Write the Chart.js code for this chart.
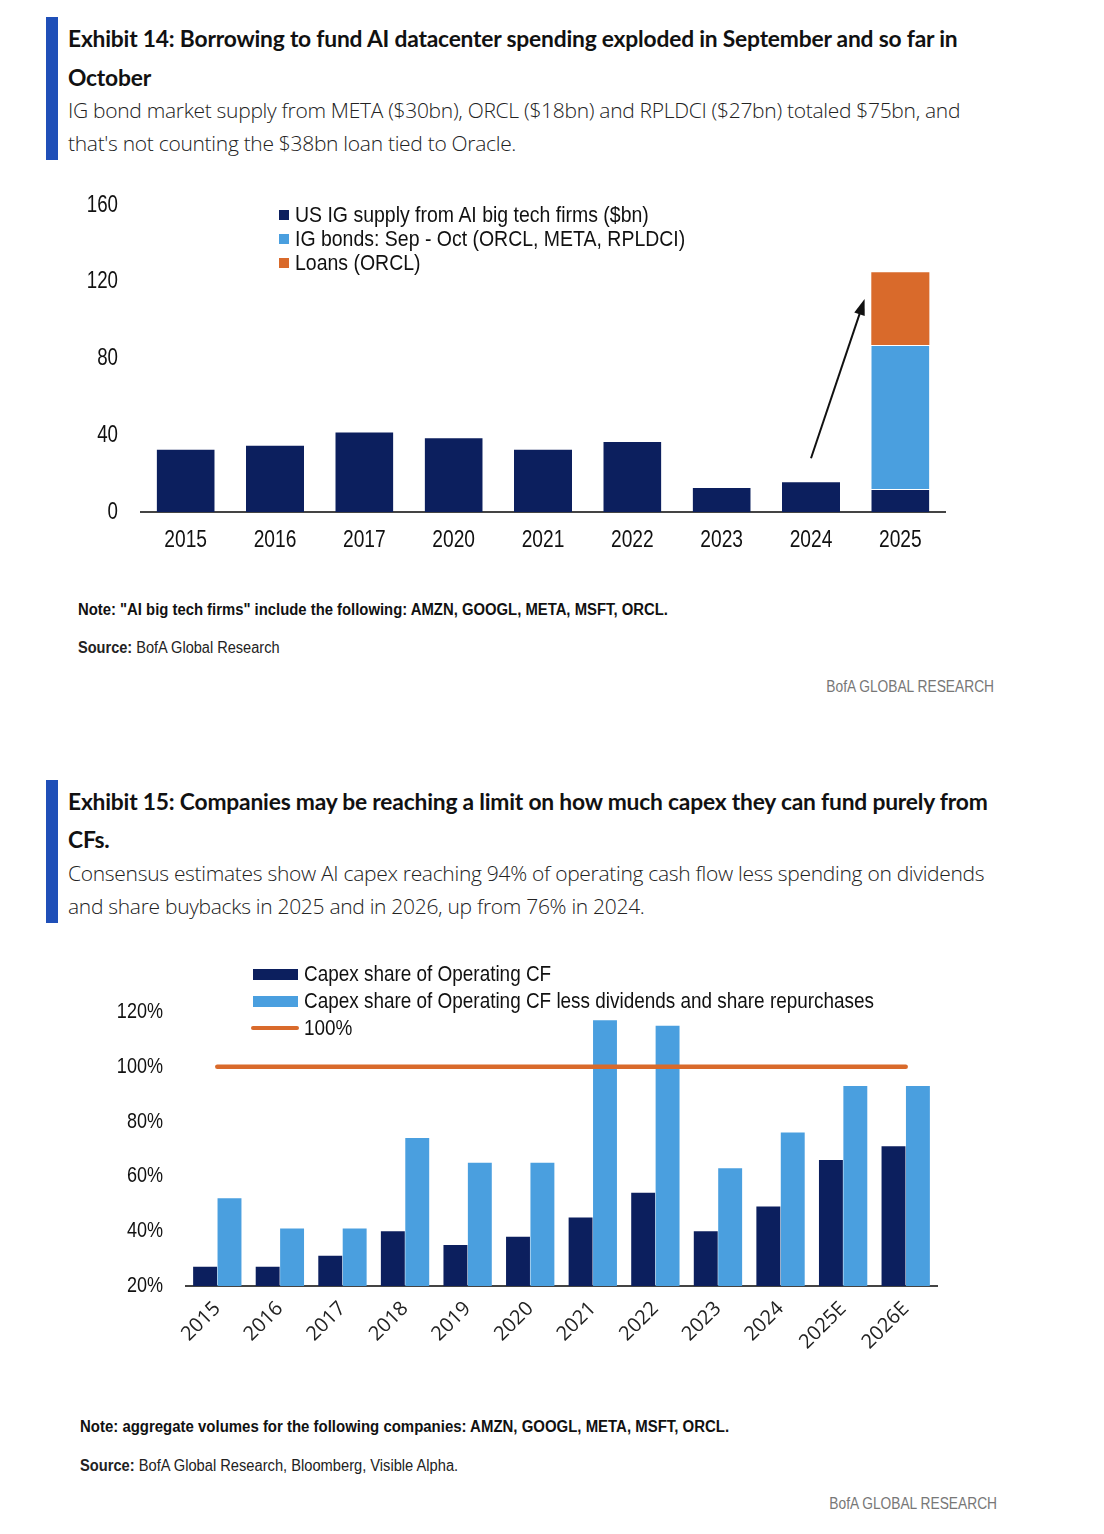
<!DOCTYPE html>
<html><head><meta charset="utf-8">
<script src="https://cdn.jsdelivr.net/npm/chart.js@4.4.1/dist/chart.umd.min.js"></script>
<style>
html,body{margin:0;padding:0;background:#fff;}
body{width:1104px;height:1534px;position:relative;overflow:hidden;font-family:"Liberation Sans",Arial,sans-serif;color:#111;}
.abs{position:absolute;white-space:nowrap;line-height:30px;}
.vbar{position:absolute;left:46px;width:12px;background:#1F4FB8;}
.title{font-family:Lato,"Open Sans",sans-serif;font-weight:700;font-size:22.8px;color:#111;letter-spacing:-0.2px;}
.sub{font-family:"Open Sans",Lato,sans-serif;font-weight:300;font-size:21px;color:#222;letter-spacing:-0.3px;}
.note{font-family:"Liberation Sans",sans-serif;font-size:16px;color:#111;font-weight:700;transform-origin:left center;}
.src{font-family:"Liberation Sans",sans-serif;font-size:16px;color:#222;transform-origin:left center;}
.brand{font-family:"Liberation Sans",sans-serif;font-size:16px;color:#777;transform-origin:right center;transform:scaleX(0.86);}
.leg{position:absolute;font-family:"Liberation Sans",Arial,sans-serif;font-size:22px;color:#111;white-space:nowrap;line-height:24px;transform-origin:left center;}
.sw{position:absolute;}
canvas{position:absolute;}
</style>
</head>
<body>
<!-- Exhibit 14 header -->
<div class="vbar" style="top:17px;height:143px;"></div>
<div class="abs title" style="left:68px;top:23px;">Exhibit 14: Borrowing to fund AI datacenter spending exploded in September and so far in</div>
<div class="abs title" style="left:68px;top:62px;">October</div>
<div class="abs sub" style="left:68px;top:95px;">IG bond market supply from META ($30bn), ORCL ($18bn) and RPLDCI ($27bn) totaled $75bn, and</div>
<div class="abs sub" style="left:68px;top:128px;">that's not counting the $38bn loan tied to Oracle.</div>

<canvas id="c1" width="900" height="370" style="left:60px;top:190px;width:900px;height:370px;"></canvas>
<div class="sw" style="left:279px;top:210px;width:10px;height:10px;background:#0C1F5E;"></div>
<div class="leg" style="left:295px;top:203px;transform:scaleX(0.885);">US IG supply from AI big tech firms ($bn)</div>
<div class="sw" style="left:279px;top:234px;width:10px;height:10px;background:#4A9FDF;"></div>
<div class="leg" style="left:295px;top:227px;transform:scaleX(0.885);">IG bonds: Sep - Oct (ORCL, META, RPLDCI)</div>
<div class="sw" style="left:279px;top:258px;width:10px;height:10px;background:#D96A2B;"></div>
<div class="leg" style="left:295px;top:251px;transform:scaleX(0.885);">Loans (ORCL)</div>

<div class="abs note" style="left:78px;top:595px;transform:scaleX(0.928);">Note: "AI big tech firms" include the following: AMZN, GOOGL, META, MSFT, ORCL.</div>
<div class="abs src" style="left:78px;top:633px;transform:scaleX(0.91);"><b>Source:</b> BofA Global Research</div>
<div class="abs brand" style="right:110px;top:672px;">BofA GLOBAL RESEARCH</div>

<!-- Exhibit 15 header -->
<div class="vbar" style="top:780px;height:143px;"></div>
<div class="abs title" style="left:68px;top:786px;">Exhibit 15: Companies may be reaching a limit on how much capex they can fund purely from</div>
<div class="abs title" style="left:68px;top:824px;">CFs.</div>
<div class="abs sub" style="left:68px;top:858px;">Consensus estimates show AI capex reaching 94% of operating cash flow less spending on dividends</div>
<div class="abs sub" style="left:68px;top:891px;">and share buybacks in 2025 and in 2026, up from 76% in 2024.</div>

<canvas id="c2" width="870" height="420" style="left:90px;top:950px;width:870px;height:420px;"></canvas>
<div class="sw" style="left:253px;top:969px;width:45px;height:11px;background:#0C1F5E;"></div>
<div class="leg" style="left:304px;top:962px;transform:scaleX(0.86);">Capex share of Operating CF</div>
<div class="sw" style="left:253px;top:996px;width:45px;height:11px;background:#4A9FDF;"></div>
<div class="leg" style="left:304px;top:989px;transform:scaleX(0.86);">Capex share of Operating CF less dividends and share repurchases</div>
<div class="sw" style="left:251px;top:1026px;width:48px;height:4px;background:#D96A2B;border-radius:2px;"></div>
<div class="leg" style="left:304px;top:1016px;transform:scaleX(0.86);">100%</div>

<div class="abs note" style="left:80px;top:1412px;transform:scaleX(0.935);">Note: aggregate volumes for the following companies: AMZN, GOOGL, META, MSFT, ORCL.</div>
<div class="abs src" style="left:80px;top:1451px;transform:scaleX(0.917);"><b>Source:</b> BofA Global Research, Bloomberg, Visible Alpha.</div>
<div class="abs brand" style="right:107px;top:1489px;">BofA GLOBAL RESEARCH</div>

<script>
// ---------- Exhibit 14 data ----------
const topCategories = ['2015','2016','2017','2020','2021','2022','2023','2024','2025'];
const usIgSupply    = [33, 35, 42, 39, 33, 37, 13, 16, 12];
const igBondsSepOct = [null, null, null, null, null, null, null, null, 75];
const loansOrcl     = [null, null, null, null, null, null, null, null, 38];
const topTicks      = [0, 40, 80, 120, 160];
// arrow annotation (category index, value)
const arrowFrom = [7, 28];
const arrowTo   = [7.6, 111];

// ---------- Exhibit 15 data ----------
const bottomCategories = ['2015','2016','2017','2018','2019','2020','2021','2022','2023','2024','2025E','2026E'];
const capexShareOcf         = [27, 27, 31, 40, 35, 38, 45, 54, 40, 49, 66, 71];
const capexShareOcfLessDivs = [52, 41, 41, 74, 65, 65, 117, 115, 63, 76, 93, 93];
const hundredPct            = [100, 100, 100, 100, 100, 100, 100, 100, 100, 100, 100, 100];
const bottomTicks           = [20, 40, 60, 80, 100, 120];

const NAVY = '#0C1F5E', LIGHT = '#4A9FDF', ORANGE = '#D96A2B';
const SANS = '"Liberation Sans",Arial,sans-serif';

const arrowPlugin = {
  id: 'arrow',
  afterDatasetsDraw(chart) {
    const {ctx, scales: {x, y}} = chart;
    const x1 = x.getPixelForValue(arrowFrom[0]), y1 = y.getPixelForValue(arrowFrom[1]);
    const x2 = x.getPixelForValue(arrowTo[0]),   y2 = y.getPixelForValue(arrowTo[1]);
    const ang = Math.atan2(y2 - y1, x2 - x1);
    const hl = 16, hw = 5.5;
    ctx.save();
    ctx.strokeStyle = '#111'; ctx.fillStyle = '#111'; ctx.lineWidth = 2;
    ctx.beginPath(); ctx.moveTo(x1, y1);
    ctx.lineTo(x2 - Math.cos(ang) * hl * 0.8, y2 - Math.sin(ang) * hl * 0.8); ctx.stroke();
    ctx.beginPath();
    ctx.moveTo(x2, y2);
    ctx.lineTo(x2 - Math.cos(ang) * hl + Math.sin(ang) * hw, y2 - Math.sin(ang) * hl - Math.cos(ang) * hw);
    ctx.lineTo(x2 - Math.cos(ang) * hl - Math.sin(ang) * hw, y2 - Math.sin(ang) * hl + Math.cos(ang) * hw);
    ctx.closePath(); ctx.fill();
    ctx.restore();
  }
};

// Draws tick labels of given scales in a condensed (horizontally squeezed) face,
// positioned from the library's own scale pixels.
const narrowTicksPlugin = {
  id: 'narrowTicks',
  afterDraw(chart, args, opts) {
    const ctx = chart.ctx;
    (opts.scales || []).forEach(cfg => {
      const s = chart.scales[cfg.id];
      ctx.save();
      ctx.fillStyle = cfg.color || '#111';
      ctx.font = cfg.size + 'px ' + SANS;
      ctx.textBaseline = 'middle';
      s.ticks.forEach((t, i) => {
        const label = cfg.format ? cfg.format(t.value) : s.getLabelForValue(t.value);
        let px, py;
        if (s.axis === 'y') {
          px = s.right - cfg.pad; py = s.getPixelForValue(t.value); ctx.textAlign = 'right';
        } else {
          px = s.getPixelForTick(i); py = chart.chartArea.bottom + cfg.pad; ctx.textAlign = 'center';
        }
        ctx.save();
        ctx.translate(px, py);
        ctx.scale(cfg.squeeze, 1);
        ctx.fillText(label, 0, 0);
        ctx.restore();
      });
      ctx.restore();
    });
  }
};

new Chart(document.getElementById('c1'), {
  type: 'bar',
  data: {
    labels: topCategories,
    datasets: [
      {label: 'US IG supply from AI big tech firms ($bn)', data: usIgSupply, backgroundColor: NAVY, borderColor: '#fff', borderWidth: {top: 1}, borderSkipped: 'bottom'},
      {label: 'IG bonds: Sep - Oct (ORCL, META, RPLDCI)', data: igBondsSepOct, backgroundColor: LIGHT, borderColor: '#fff', borderWidth: {top: 1}, borderSkipped: 'bottom'},
      {label: 'Loans (ORCL)', data: loansOrcl, backgroundColor: ORANGE, borderWidth: 0}
    ]
  },
  options: {
    responsive: false, animation: false,
    barPercentage: 0.65, categoryPercentage: 1.0,
    layout: {padding: {left: 0, right: 15, top: 15, bottom: 0}},
    plugins: {
      legend: {display: false}, tooltip: {enabled: false},
      narrowTicks: {scales: [
        {id: 'y', size: 24, squeeze: 0.78, pad: 23, format: v => String(v)},
        {id: 'x', size: 24, squeeze: 0.8, pad: 28}
      ]}
    },
    scales: {
      x: {
        stacked: true,
        grid: {display: false, drawTicks: false},
        border: {display: true, color: '#444', width: 2},
        ticks: {display: false},
        afterFit(s) { s.height = 48; }
      },
      y: {
        stacked: true, min: 0, max: 160,
        grid: {display: false, drawTicks: false},
        border: {display: false},
        afterBuildTicks(s) { s.ticks = topTicks.map(v => ({value: v})); },
        ticks: {display: false},
        afterFit(s) { s.width = 81; }
      }
    }
  },
  plugins: [arrowPlugin, narrowTicksPlugin]
});

new Chart(document.getElementById('c2'), {
  type: 'bar',
  data: {
    labels: bottomCategories,
    datasets: [
      {type: 'line', label: '100%', data: hundredPct, borderColor: ORANGE, borderWidth: 4.5, pointRadius: 0, borderCapStyle: 'round', fill: false, order: 0},
      {label: 'Capex share of Operating CF', data: capexShareOcf, backgroundColor: NAVY, order: 1},
      {label: 'Capex share of Operating CF less dividends and share repurchases', data: capexShareOcfLessDivs, backgroundColor: LIGHT, order: 1}
    ]
  },
  options: {
    responsive: false, animation: false,
    layout: {padding: {left: 0, right: 23, top: 62, bottom: 0}},
    plugins: {
      legend: {display: false}, tooltip: {enabled: false},
      narrowTicks: {scales: [
        {id: 'y', size: 22, squeeze: 0.82, pad: 23, format: v => v + '%'}
      ]}
    },
    datasets: {bar: {barPercentage: 0.98, categoryPercentage: 0.78}},
    scales: {
      x: {
        grid: {display: false, drawTicks: false},
        border: {display: true, color: '#444', width: 2},
        ticks: {color: '#222', font: {family: '"Open Sans",sans-serif', size: 20}, padding: 11, minRotation: 45, maxRotation: 45, autoSkip: false},
        afterFit(s) { s.height = 84; }
      },
      y: {
        min: 20, max: 120,
        grid: {display: false, drawTicks: false},
        border: {display: false},
        afterBuildTicks(s) { s.ticks = bottomTicks.map(v => ({value: v})); },
        ticks: {display: false},
        afterFit(s) { s.width = 96; }
      }
    }
  },
  plugins: [narrowTicksPlugin]
});
</script>
</body></html>
